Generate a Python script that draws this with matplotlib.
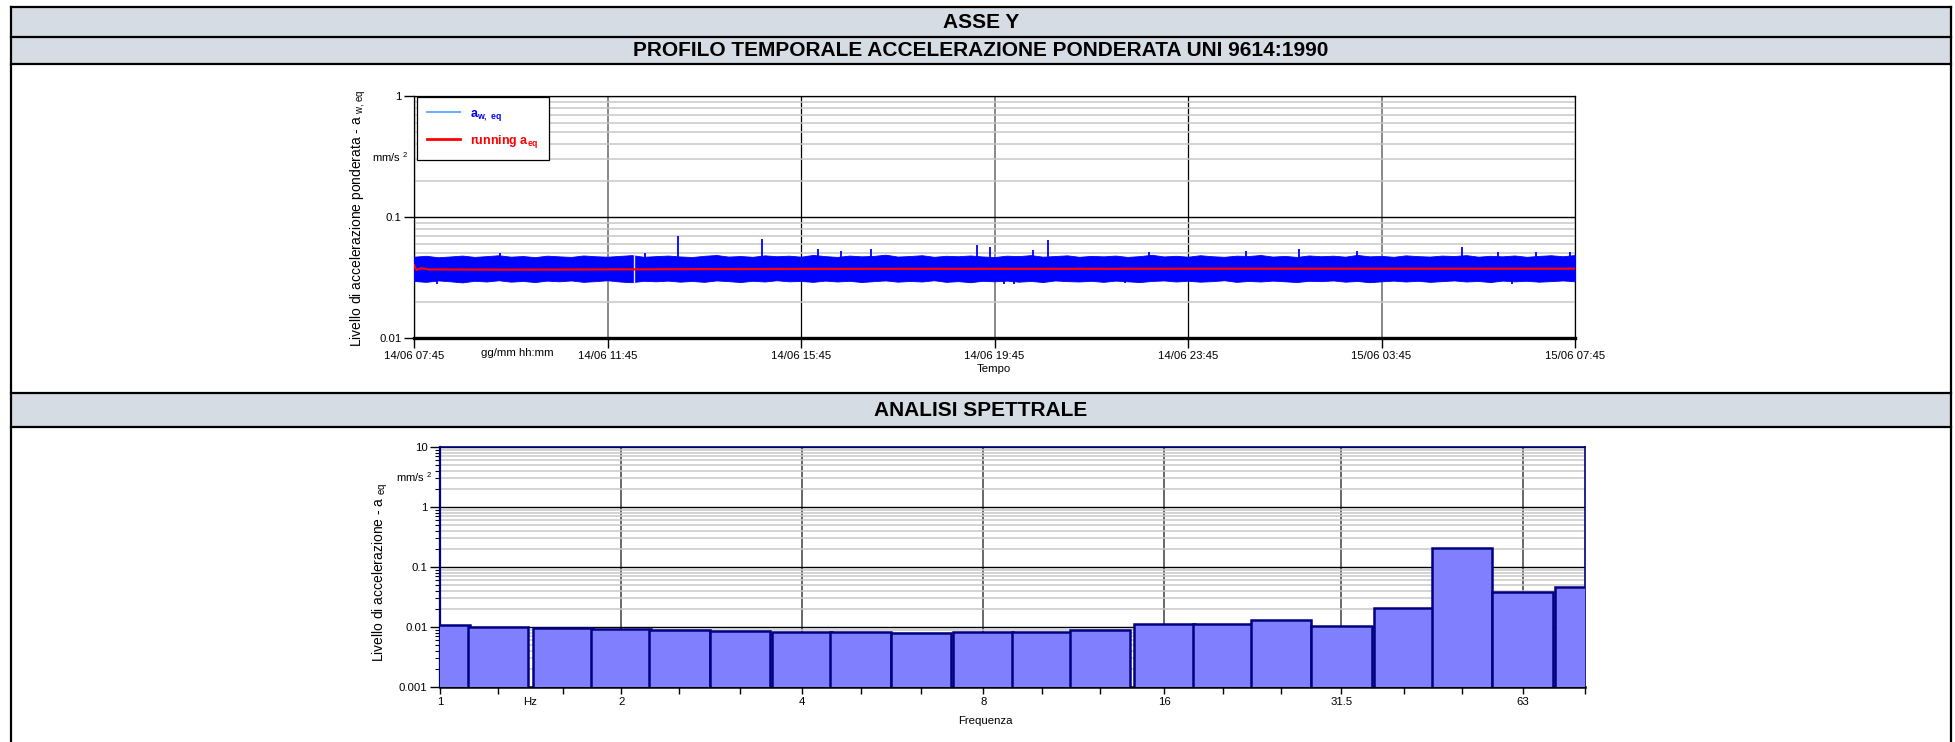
import matplotlib
matplotlib.use("Agg")
import matplotlib.pyplot as plt
import numpy as np
from matplotlib.patches import Rectangle
from matplotlib.lines import Line2D
from matplotlib.ticker import FixedLocator, NullFormatter

plt.rcParams['font.family'] = ['Liberation Sans', 'DejaVu Sans']
plt.rcParams['mathtext.default'] = 'regular'

# ---------------- dati: profilo temporale (ore dall'inizio 14/06 07:45) ----------------
ore_tick = [0, 4, 8, 12, 16, 20, 24]
etichette_tempo = ['14/06 07:45', '14/06 11:45', '14/06 15:45', '14/06 19:45',
                   '14/06 23:45', '15/06 03:45', '15/06 07:45']

ore_banda = np.arange(0, 24.01, 0.25)  # una lettura ogni 15 min
banda_sup = [
    0.0470, 0.0478, 0.0465, 0.0472, 0.0480, 0.0468, 0.0475, 0.0483, 0.0470, 0.0476, 0.0466, 0.0479,
    0.0473, 0.0468, 0.0481, 0.0474, 0.0470, 0.0477, 0.0484, 0.0469, 0.0475, 0.0480, 0.0472, 0.0467,
    0.0478, 0.0485, 0.0471, 0.0476, 0.0469, 0.0482, 0.0474, 0.0479, 0.0470, 0.0486, 0.0475, 0.0468,
    0.0480, 0.0473, 0.0477, 0.0488, 0.0471, 0.0476, 0.0483, 0.0469, 0.0478, 0.0474, 0.0481, 0.0472,
    0.0467, 0.0479, 0.0475, 0.0484, 0.0470, 0.0476, 0.0482, 0.0469, 0.0477, 0.0473, 0.0480, 0.0468,
    0.0475, 0.0487, 0.0472, 0.0478, 0.0470, 0.0483, 0.0474, 0.0469, 0.0479, 0.0476, 0.0485, 0.0471,
    0.0477, 0.0468, 0.0481, 0.0474, 0.0479, 0.0470, 0.0486, 0.0473, 0.0477, 0.0469, 0.0482, 0.0475,
    0.0471, 0.0480, 0.0476, 0.0484, 0.0470, 0.0478, 0.0473, 0.0481, 0.0469, 0.0477, 0.0483, 0.0474,
    0.0485]
banda_inf = [
    0.0296, 0.0291, 0.0299, 0.0294, 0.0288, 0.0297, 0.0293, 0.0300, 0.0292, 0.0296, 0.0290, 0.0298,
    0.0294, 0.0299, 0.0291, 0.0295, 0.0300, 0.0293, 0.0289, 0.0297, 0.0294, 0.0298, 0.0292, 0.0296,
    0.0291, 0.0299, 0.0295, 0.0290, 0.0297, 0.0293, 0.0300, 0.0294, 0.0296, 0.0291, 0.0298, 0.0293,
    0.0297, 0.0290, 0.0295, 0.0299, 0.0292, 0.0296, 0.0293, 0.0300, 0.0291, 0.0295, 0.0289, 0.0297,
    0.0294, 0.0298, 0.0292, 0.0296, 0.0290, 0.0299, 0.0295, 0.0293, 0.0297, 0.0291, 0.0298, 0.0294,
    0.0290, 0.0296, 0.0299, 0.0293, 0.0297, 0.0292, 0.0295, 0.0300, 0.0291, 0.0296, 0.0293, 0.0298,
    0.0294, 0.0290, 0.0297, 0.0295, 0.0299, 0.0292, 0.0296, 0.0289, 0.0294, 0.0298, 0.0293, 0.0297,
    0.0291, 0.0295, 0.0299, 0.0293, 0.0296, 0.0290, 0.0298, 0.0294, 0.0297, 0.0292, 0.0295, 0.0299,
    0.0294]

# picchi isolati (ora, valore)
ore_picchi = [1.77, 4.78, 5.46, 7.20, 8.36, 8.83, 9.44, 11.63, 11.90, 12.80, 13.10,
              15.20, 17.20, 18.30, 19.50, 21.66, 22.40, 23.20, 23.90]
val_picchi = [0.050, 0.050, 0.069, 0.066, 0.054, 0.052, 0.054, 0.059, 0.056, 0.053, 0.064,
              0.051, 0.052, 0.054, 0.052, 0.056, 0.051, 0.051, 0.051]
ore_buchi = [0.48, 12.20, 12.40, 14.70, 22.70]
val_buchi = [0.0280, 0.0282, 0.0281, 0.0283, 0.0282]
ore_interruzione = [4.55]

ore_running = [0, 0.05, 0.15, 0.3, 1, 2, 4, 6, 8, 10, 12, 14, 16, 18, 20, 22, 24]
val_running = [0.0400, 0.0365, 0.0378, 0.0369, 0.0368, 0.0367, 0.0369, 0.0371, 0.0372,
               0.0373, 0.0373, 0.0373, 0.0374, 0.0374, 0.0374, 0.0374, 0.0374]

# ---------------- dati: analisi spettrale (bande 1/3 ottava) ----------------
freq_bande = [1, 1.25, 1.6, 2, 2.5, 3.15, 4, 5, 6.3, 8, 10, 12.5, 16, 20, 25, 31.5, 40, 50, 63, 80]
livelli = [0.0108, 0.0101, 0.0096, 0.0093, 0.0089, 0.0086, 0.0084, 0.0083, 0.0079, 0.0081,
           0.0081, 0.0088, 0.0112, 0.0112, 0.0129, 0.0105, 0.0206, 0.206, 0.0386, 0.0467]
freq_tick = [1, 2, 4, 8, 16, 31.5, 63]
etichette_freq = ['1', '2', '4', '8', '16', '31.5', '63']

W, H = 1955, 742
fig = plt.figure(figsize=(W / 100, H / 100), dpi=100)


def box(l, t, r, b):
    return [l / W, 1 - b / H, (r - l) / W, (b - t) / H]


# ---------------- tabella di sfondo ----------------
bg = fig.add_axes([0, 0, 1, 1], zorder=-5)
bg.set_xlim(0, W)
bg.set_ylim(H, 0)
bg.axis('off')
cella = '#D6DCE4'
for t, b in [(7, 37), (37, 64), (393, 427)]:
    bg.add_patch(Rectangle((11, t), 1940, b - t, facecolor=cella, edgecolor='none'))
for y in [7, 37, 64, 393, 427]:
    bg.add_line(Line2D([11, 1951], [y, y], color='black', lw=1.6))
for x in [11, 1951]:
    bg.add_line(Line2D([x, x], [7, H], color='black', lw=1.6))
font_titoli = dict(weight='bold', size=15, ha='center', va='center')
bg.text(981, 22.5, 'ASSE Y', **font_titoli)
bg.text(981, 51, 'PROFILO TEMPORALE ACCELERAZIONE PONDERATA UNI 9614:1990', **font_titoli)
bg.text(981, 410.5, 'ANALISI SPETTRALE', **font_titoli)

# ---------------- grafico 1: profilo temporale ----------------
ax1 = fig.add_axes(box(414, 96, 1575, 338))
ax1.set_yscale('log')
ax1.set_ylim(0.01, 1)
ax1.set_xlim(0, 24)
ax1.fill_between(ore_banda, banda_inf, banda_sup, color='#0000FF', lw=0.6, zorder=3)
base_p = np.interp(ore_picchi, ore_banda, banda_sup) * 0.97
ax1.vlines(ore_picchi, base_p, val_picchi, color='#0000FF', lw=1.3, zorder=3)
base_b = np.interp(ore_buchi, ore_banda, banda_inf) * 1.03
ax1.vlines(ore_buchi, val_buchi, base_b, color='#0000FF', lw=1.3, zorder=3)
ax1.vlines(ore_interruzione, 0.0285, 0.049, color='#E8E8E8', lw=1.0, zorder=3.5)
ax1.plot(ore_running, val_running, color='#FF0000', lw=1.6, zorder=4)

ax1.set_yticks([0.01, 0.1, 1])
ax1.set_yticklabels(['0.01', '0.1', '1'])
ax1.set_xticks(ore_tick)
ax1.set_xticklabels(etichette_tempo)
ax1.tick_params(axis='both', which='major', labelsize=8.2, length=7, width=1, direction='out', pad=2)
ax1.tick_params(axis='y', which='minor', length=0)
ax1.grid(True, which='minor', axis='y', color='#C8C8C8', lw=1.1)
ax1.grid(True, which='major', axis='y', color='black', lw=1.0)
ax1.grid(True, which='major', axis='x', lw=1.0)
for i, gl in enumerate(ax1.get_xgridlines()):
    gl.set_color('#7F7F7F' if i % 2 else 'black')
    gl.set_linewidth(1.3 if i % 2 else 0.9)
ax1.set_axisbelow(True)
for s in ['top', 'left', 'right']:
    ax1.spines[s].set_linewidth(0.9)
ax1.spines['bottom'].set_linewidth(2.4)

leg_h = [Line2D([], [], color='#66B2FF', lw=1.5), Line2D([], [], color='#FF0000', lw=2.0)]
leg = ax1.legend(leg_h, ['a$_{w,\\ eq}$', 'running a$_{eq}$'], loc='upper left',
                 bbox_to_anchor=(0.003, 0.994), borderaxespad=0, fancybox=False,
                 edgecolor='black', framealpha=1, handlelength=2.6, borderpad=0.8,
                 labelspacing=0.8, prop=dict(weight='bold', size=9))
leg.get_frame().set_linewidth(0.9)
leg.get_texts()[0].set_color('#0000FF')
leg.get_texts()[1].set_color('#FF0000')
leg.set_zorder(10)

fig.text(358 / W, 1 - 218 / H, 'Livello di accelerazione ponderata - a $_{w,eq}$', rotation=90,
         ha='center', va='center', fontsize=10)
fig.text(390 / W, 1 - 157 / H, 'mm/s $^{2}$', ha='center', va='center', fontsize=8)
fig.text(517 / W, 1 - 353 / H, 'gg/mm hh:mm', ha='center', va='center', fontsize=8.2)
fig.text(994 / W, 1 - 369 / H, 'Tempo', ha='center', va='center', fontsize=8.2)

# ---------------- grafico 2: analisi spettrale ----------------
ax2 = fig.add_axes(box(440, 447, 1585, 687))
ax2.set_xscale('log', base=2)
ax2.set_yscale('log')
ax2.set_xlim(1, 80)
ax2.set_ylim(0.001, 10)
f = np.array(freq_bande)
sx = f * 10 ** -0.05
dx = f * 10 ** 0.05
ax2.bar(sx, np.array(livelli) - 0.0001, width=dx - sx, bottom=0.0001, align='edge',
        color='#8080FF', edgecolor='#000080', lw=1.8, zorder=3)
ax2.set_xticks(freq_tick)
ax2.set_xticklabels(etichette_freq)
ax2.xaxis.set_minor_locator(FixedLocator([v for v in freq_bande if v not in freq_tick]))
ax2.xaxis.set_minor_formatter(NullFormatter())
ax2.set_yticks([0.001, 0.01, 0.1, 1, 10])
ax2.set_yticklabels(['0.001', '0.01', '0.1', '1', '10'])
ax2.tick_params(axis='both', which='major', labelsize=8.2, length=7, width=1, direction='out', pad=2)
ax2.tick_params(axis='x', which='both', length=5, width=1)
ax2.tick_params(axis='y', which='minor', length=3.5, width=0.8)
ax2.grid(True, which='minor', axis='y', color='#C8C8C8', lw=1.1)
ax2.grid(True, which='major', axis='y', color='black', lw=1.0)
ax2.grid(True, which='major', axis='x', color='#404040', lw=1.1)
ax2.set_axisbelow(True)
for s in ['top', 'left', 'right']:
    ax2.spines[s].set_color('#000080')
    ax2.spines[s].set_linewidth(1.2)
ax2.spines['left'].set_linewidth(1.6)
ax2.spines['bottom'].set_linewidth(1.8)

fig.text(380 / W, 1 - 572 / H, 'Livello di accelerazione - a $_{eq}$', rotation=90,
         ha='center', va='center', fontsize=10)
fig.text(414 / W, 1 - 477 / H, 'mm/s $^{2}$', ha='center', va='center', fontsize=8)
fig.text(530 / W, 1 - 702 / H, 'Hz', ha='center', va='center', fontsize=8.2)
fig.text(985 / W, 1 - 721 / H, 'Frequenza', ha='center', va='center', fontsize=8.2)

fig.savefig('out.png', dpi=100, facecolor='white')
